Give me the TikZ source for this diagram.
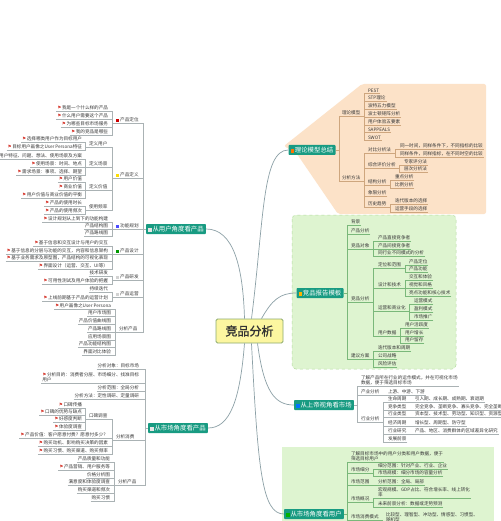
\documentclass[tikz,border=0pt]{standalone}
\usepackage{fontspec}
\setmainfont{Noto Sans CJK SC}
\newfontfamily\dejavu{DejaVu Sans}
\newfontfamily\cbold{Noto Sans CJK SC}[FakeBold=1.6]
\usetikzlibrary{calc}
\definecolor{teal1}{RGB}{24,155,130}
\definecolor{txt}{RGB}{55,55,55}
\definecolor{lnc}{RGB}{170,178,180}
\definecolor{crv}{RGB}{140,160,166}
\definecolor{peach}{RGB}{252,226,200}
\definecolor{gpan}{RGB}{222,244,208}
\definecolor{gbord}{RGB}{180,220,160}
\definecolor{cfill}{RGB}{252,246,160}
\definecolor{cbord}{RGB}{140,170,110}
\definecolor{flagc}{RGB}{215,60,50}
\newcommand{\fl}{{\dejavu\textcolor{flagc}{⚑}}\hspace{0.6pt}}
\newcommand{\ic}[1]{\textcolor{#1}{\rule[-0.2pt]{3.2pt}{3.2pt}}\hspace{1pt}}
\newcommand{\LL}[4]{\node[lf,anchor=east] (#1) at (#2,#3) {#4};}
\newcommand{\LW}[4]{\node[lf,anchor=west] (#1) at (#2,#3) {#4};}
\newcommand{\RW}[4]{\node[lf,anchor=west] (#1) at (#2,#3) {#4};}
\newcommand{\eL}[2]{\draw[ln] (#2.south west) -- (#2.south east) -| ([xshift=-3pt]#1.south west) -- (#1.south west);}
\newcommand{\eR}[2]{\draw[ln] (#2.south east) -- (#2.south west) -| ([xshift=3pt]#1.south east) -- (#1.south east);}
\newcommand{\eML}[2]{\draw[ln] (#2.south west) -- (#2.south east) -| ([xshift=-3pt]#1.west) -- (#1.west);}
\newcommand{\eMR}[2]{\draw[ln] (#2.south east) -- (#2.south west) -| ([xshift=3pt]#1.east) -- (#1.east);}
\tikzset{
 lf/.style={font=\fontsize{4.6}{5.4}\selectfont, text=txt, inner xsep=0.8pt, inner ysep=0.7pt},
 ln/.style={draw=lnc, line width=0.35pt},
 mainnode/.style={fill=teal1, text=white, font=\fontsize{6.4}{7}\selectfont, inner xsep=2.2pt, inner ysep=1.5pt, rounded corners=0.8pt, minimum height=10pt},
 curve/.style={draw=crv, line width=0.7pt},
}
\begin{document}
\begin{tikzpicture}[x=1pt,y=-1pt]
\useasboundingbox (0,0) rectangle (500,521);
\fill[white] (0,0) rectangle (500,521);
% panels
\fill[peach, rounded corners=2pt] (362,84) -- (486,84) -- (486,214) -- (338,214) -- (297,154) -- (284,146) -- cycle;
\draw[gbord, fill=gpan, dashed, rounded corners=4pt, line width=0.5pt] (292,215) rectangle (456,369);
\fill[gpan] (282,447) rectangle (494,530);

% center
\node[draw=cbord, fill=cfill, line width=0.8pt, rounded corners=1.5pt, minimum width=67pt, minimum height=24pt, font=\cbold\fontsize{12}{14}\selectfont, text=black!80] (C) at (249.5,331) {竞品分析};

% main nodes
\node[mainnode] (U) at (176,229) {\ic{white!80!gray}从用户角度看产品};
\node[mainnode] (M) at (178,428) {\ic{white!80!gray}从市场角度看产品};
\node[mainnode] (T) at (312,150) {\ic{orange!90!red}理论模型总结};
\node[mainnode] (R) at (320,293) {\ic{orange!60!yellow}竞品报告模板};
\node[mainnode] (S) at (324,405) {\ic{blue!55!cyan}从上帝视角看市场};
\node[mainnode] (V) at (314,514) {\ic{green!70!black}从市场角度看用户};

% curves
\draw[curve] ([xshift=-5pt]C.north) .. controls (243,268) and (234,229) .. (U.east);
\draw[curve] ([xshift=2pt]C.north) .. controls (264,220) and (262,150) .. (T.west);
\draw[curve] ([xshift=12pt]C.north) .. controls (272,300) and (280,293) .. (R.west);
\draw[curve] ([xshift=8pt]C.south) .. controls (264,392) and (275,405) .. (S.west);
\draw[curve] ([xshift=2pt]C.south) .. controls (258,470) and (262,514) .. (V.west);
\draw[curve] ([xshift=-5pt]C.south) .. controls (240,400) and (230,428) .. (M.east);

% ---------------- left top
\LW{p1}{115}{120}{\ic{red!80!black}产品定位}
\LL{a1}{109}{108}{\fl 我是一个什么样的产品}
\LL{a2}{109}{116}{\fl 什么用户需要这个产品}
\LL{a3}{109}{124}{\fl 为哪些目标市场服务}
\LL{a4}{109}{132}{\fl 我的竞品是哪些}
\LW{p2}{115}{175}{\ic{yellow!80!orange}产品定义}
\LW{q1}{88}{144}{定义用户}
\LL{b1}{83}{139}{\fl 选择哪类用户作为目标用户}
\LL{b2}{83}{147}{\fl 目标用户画像之User Persona特征}
\LW{q2}{88}{164}{定义场景}
\LL{b3}{83}{156}{用户特征、问题、想法、使用场景及方案}
\LL{b4}{83}{164}{\fl 使用场景：时间、地点}
\LL{b5}{83}{172}{\fl 需求场景：事项、选择、期望}
\LW{q3}{88}{187}{定义价值}
\LL{b6}{83}{179}{\fl 用户价值}
\LL{b7}{83}{187}{\fl 商业价值}
\LL{b8}{83}{195}{\fl 用户价值与商业价值的平衡}
\LW{q4}{88}{207}{使用频率}
\LL{b9}{83}{203}{\fl 产品的使用时长}
\LL{b10}{83}{211}{\fl 产品的使用频次}
\LW{p3}{115}{226}{\ic{blue!70}功能规划}
\LL{c1}{109}{219}{\fl 设计规划从上到下的功能构建}
\LL{c2}{109}{226}{产品结构图}
\LL{c3}{109}{233}{产品路线图}
\LW{p4}{115}{251}{\ic{green!60!black}产品设计}
\LL{d1}{109}{243}{\fl 基于信息和交互设计与用户的交互}
\LL{d2}{109}{251}{\fl 基于信息的分层与功能的交互，内容和信息架构}
\LL{d3}{109}{258}{\fl 基于业务需求及原型图，产品结构的可视化表现}
\LL{d4}{109}{266}{\fl 界面设计（运营、交互、UI等）}
\LW{p5}{115}{277}{\ic{gray!35}产品研发}
\LL{e1}{109}{273}{技术研发}
\LL{e2}{109}{281}{\fl 可用性测试及用户体验的把握}
\LW{p6}{115}{294}{\ic{gray!35}产品运营}
\LL{f1}{109}{289}{持续迭代}
\LL{f2}{109}{298}{\fl 上线前期基于产品的运营计划}
\LW{p7}{118}{329}{分析产品}
\LL{g1}{112}{306}{\fl 用户画像之User Persona}
\LL{g2}{112}{313}{用户市场图}
\LL{g3}{112}{321}{产品价值曲线图}
\LL{g4}{112}{329}{产品路线图}
\LL{g5}{112}{337}{应用场景图}
\LL{g6}{112}{344}{产品功能结构图}
\LL{g7}{112}{352}{界面对比体验}
\foreach \n in {p1,p2,p3,p4,p5,p6,p7} {\eML{U}{\n}}
\foreach \n in {a1,a2,a3,a4} {\eL{p1}{\n}}
\foreach \n in {q1,q2,q3,q4} {\eL{p2}{\n}}
\foreach \n in {b1,b2} {\eL{q1}{\n}}
\foreach \n in {b3,b4,b5} {\eL{q2}{\n}}
\foreach \n in {b6,b7,b8} {\eL{q3}{\n}}
\foreach \n in {b9,b10} {\eL{q4}{\n}}
\foreach \n in {c1,c2,c3} {\eL{p3}{\n}}
\foreach \n in {d1,d2,d3,d4} {\eL{p4}{\n}}
\foreach \n in {e1,e2} {\eL{p5}{\n}}
\foreach \n in {f1,f2} {\eL{p6}{\n}}
\foreach \n in {g1,g2,g3,g4,g5,g6,g7} {\eL{p7}{\n}}

% ---------------- left bottom
\LL{m1}{140}{366}{分析对象：目标市场}
\node[lf,anchor=east,align=left] (m2) at (140,377) {\fl 分析目的：消费者分层、市场细分、找准目标\\用户};
\LL{m3}{140}{388}{分析范围：全局分析}
\LL{m4}{140}{396}{分析方法：定性调研、定量调研}
\LW{m5}{115}{437}{分析消费}
\LW{n1}{88}{416}{口碑调查}
\LL{o1}{83}{405}{\fl 口碑传播}
\LL{o2}{83}{412}{\fl 口碑的优势与缺点}
\LL{o3}{83}{419}{\fl 好感度判断}
\LL{o4}{83}{427}{\fl 体验度调查}
\LL{h1}{109}{435}{\fl 产品价值：客户愿意付费？愿意付多少？}
\LL{h2}{109}{443}{\fl 购买动机、影响购买决策的因素}
\LL{h3}{109}{451}{\fl 购买习惯、购买渠道、购买频率}
\LW{m6}{117}{482}{分析产品}
\LL{k1}{111}{459}{产品质量和功能}
\LL{k2}{111}{467}{\fl 产品营销、用户服务等}
\LL{k3}{111}{475}{价格分析图}
\LL{k4}{111}{482}{满意度和体验度调查}
\LL{k5}{111}{490}{购买渠道和频次}
\LL{k6}{111}{498}{购买习惯}
\foreach \n in {m1,m2,m3,m4,m5,m6} {\eML{M}{\n}}
\foreach \n in {n1,h1,h2,h3} {\eL{m5}{\n}}
\foreach \n in {o1,o2,o3,o4} {\eL{n1}{\n}}
\foreach \n in {k1,k2,k3,k4,k5,k6} {\eL{m6}{\n}}

% ---------------- right top (peach)
\begin{scope}[ln/.style={draw=orange!45!gray!70, line width=0.35pt}]
\RW{t1}{341}{113}{理论模型}
\RW{ta1}{367}{91}{PEST}
\RW{ta2}{367}{98}{STP理论}
\RW{ta3}{367}{106}{波特五力模型}
\RW{ta4}{367}{114}{波士顿矩阵分析}
\RW{ta5}{367}{122}{用户体验五要素}
\RW{ta6}{367}{130}{SAPPEALS}
\RW{ta7}{367}{138}{SWOT}
\RW{t2}{341}{178}{分析方法}
\RW{tb1}{367}{150}{对比分析法}
\RW{tc1}{399}{146}{同一时间，同样条件下，不同指标的比较}
\RW{tc2}{399}{154}{同样条件，同样指标，在不同时空的比较}
\RW{tb2}{367}{165}{综合评价分析}
\RW{tc3}{403}{162}{专家评分法}
\RW{tc4}{403}{169}{层次分析法}
\RW{tb3}{367}{182}{结构分析}
\RW{tc5}{394}{177}{重点分析}
\RW{tc6}{394}{185}{比例分析}
\RW{tb4}{367}{193}{象限分析}
\RW{tb5}{367}{204}{历史趋势}
\RW{tc7}{394}{201}{迭代版本的选择}
\RW{tc8}{394}{209}{运营手段的选择}
\foreach \n in {t1,t2} {\eMR{T}{\n}}
\foreach \n in {ta1,ta2,ta3,ta4,ta5,ta6,ta7} {\eR{t1}{\n}}
\foreach \n in {tb1,tb2,tb3,tb4,tb5} {\eR{t2}{\n}}
\foreach \n in {tc1,tc2} {\eR{tb1}{\n}}
\foreach \n in {tc3,tc4} {\eR{tb2}{\n}}
\foreach \n in {tc5,tc6} {\eR{tb3}{\n}}
\foreach \n in {tc7,tc8} {\eR{tb5}{\n}}
\end{scope}

% ---------------- right middle (green)
\begin{scope}[ln/.style={draw=green!30!gray!80, line width=0.35pt}]
\RW{r1}{350}{222}{背景}
\RW{r2}{350}{231}{产品分析}
\RW{r3}{350}{246}{竞品对象}
\RW{ra1}{377}{238}{产品直接竞争者}
\RW{ra2}{377}{246}{产品间接竞争者}
\RW{ra3}{377}{253}{同行业不同模式的分析}
\RW{r4}{350}{299}{竞品分析}
\RW{rb1}{377}{265}{定位和范围}
\RW{rc1}{408}{262}{产品定位}
\RW{rc2}{408}{269}{产品功能}
\RW{rb2}{377}{285}{设计和技术}
\RW{rc3}{408}{277}{交互和体验}
\RW{rc4}{408}{285}{视觉和风格}
\RW{rc5}{408}{293}{亮点功能和核心技术}
\RW{rb3}{377}{308}{运营和商业化}
\RW{rc6}{413}{301}{运营模式}
\RW{rc7}{413}{309}{盈利模式}
\RW{rc8}{413}{317}{市场推广}
\RW{rb4}{377}{333}{用户数据}
\RW{rc9}{404}{325}{用户活跃度}
\RW{rc10}{404}{333}{用户增长}
\RW{rc11}{404}{340}{用户留存}
\RW{r5}{350}{356}{建议方案}
\RW{ra4}{377}{348}{迭代版本和周期}
\RW{ra5}{377}{356}{公司战略}
\RW{ra6}{377}{364}{风险评估}
\foreach \n in {r1,r2,r3,r4,r5} {\eMR{R}{\n}}
\foreach \n in {ra1,ra2,ra3} {\eR{r3}{\n}}
\foreach \n in {rb1,rb2,rb3,rb4} {\eR{r4}{\n}}
\foreach \n in {rc1,rc2} {\eR{rb1}{\n}}
\foreach \n in {rc3,rc4,rc5} {\eR{rb2}{\n}}
\foreach \n in {rc6,rc7,rc8} {\eR{rb3}{\n}}
\foreach \n in {rc9,rc10,rc11} {\eR{rb4}{\n}}
\foreach \n in {ra4,ra5,ra6} {\eR{r5}{\n}}
\end{scope}

% ---------------- right lower
\node[lf,anchor=west,align=left] (s1) at (360,380) {了解产品所在行业的运作模式，并在可视化市场\\数据，便于筛选目标市场};
\RW{s2}{360}{392}{产业分析}
\RW{sa1}{387}{392}{上游、中游、下游}
\RW{s3}{360}{419}{行业分析}
\RW{sb1}{387}{399}{生命周期}
\RW{sc1}{414}{399}{引入期、成长期、成熟期、衰退期}
\RW{sb2}{387}{407}{竞争类型}
\RW{sc2}{414}{407}{完全竞争、垄断竞争、寡头竞争、完全垄断}
\RW{sb3}{387}{414}{行业类型}
\RW{sc3}{414}{414}{资本型、技术型、劳动型、知识型、资源型}
\RW{sb4}{387}{423}{经济周期}
\RW{sc4}{414}{423}{增长型、周期型、防守型}
\RW{sb5}{387}{431}{行业研究}
\RW{sc5}{414}{431}{产品、地区、消费群体的区域差异化研究}
\RW{sb6}{387}{439}{发展前景}
\foreach \n in {s1,s2,s3} {\eMR{S}{\n}}
\eR{s2}{sa1}
\foreach \n in {sb1,sb2,sb3,sb4,sb5,sb6} {\eR{s3}{\n}}
\eR{sb1}{sc1} \eR{sb2}{sc2} \eR{sb3}{sc3} \eR{sb4}{sc4} \eR{sb5}{sc5}

% ---------------- bottom (green)
\begin{scope}[ln/.style={draw=green!30!gray!80, line width=0.35pt}]
\node[lf,anchor=west,align=left] (v1) at (350,456) {了解目标市场中的用户分类和用户数据，便于\\筛选目标用户};
\RW{v2}{350}{470}{市场细分}
\RW{va1}{377}{466}{细分范围：针对产业、行业、企业}
\RW{va2}{377}{473}{市场规模：细分市场的容量分析}
\RW{v3}{350}{482}{市场范围}
\RW{va3}{377}{482}{分析范围：全局、局部}
\RW{v4}{350}{499}{市场概况}
\node[lf,anchor=west,align=left] (va4) at (377,492) {宏观规模、GDP占比、符合增长率、线上转化\\率};
\RW{va5}{377}{504}{未来前景分析：数据或走势预测}
\RW{v5}{350}{517}{市场消费模式}
\node[lf,anchor=west,align=left] (va6) at (385,517) {比较型、理智型、冲动型、情感型、习惯型、\\随机型};
\foreach \n in {v1,v2,v3,v4,v5} {\eMR{V}{\n}}
\foreach \n in {va1,va2} {\eR{v2}{\n}}
\eR{v3}{va3}
\foreach \n in {va4,va5} {\eR{v4}{\n}}
\eR{v5}{va6}
\end{scope}
\end{tikzpicture}
\end{document}
